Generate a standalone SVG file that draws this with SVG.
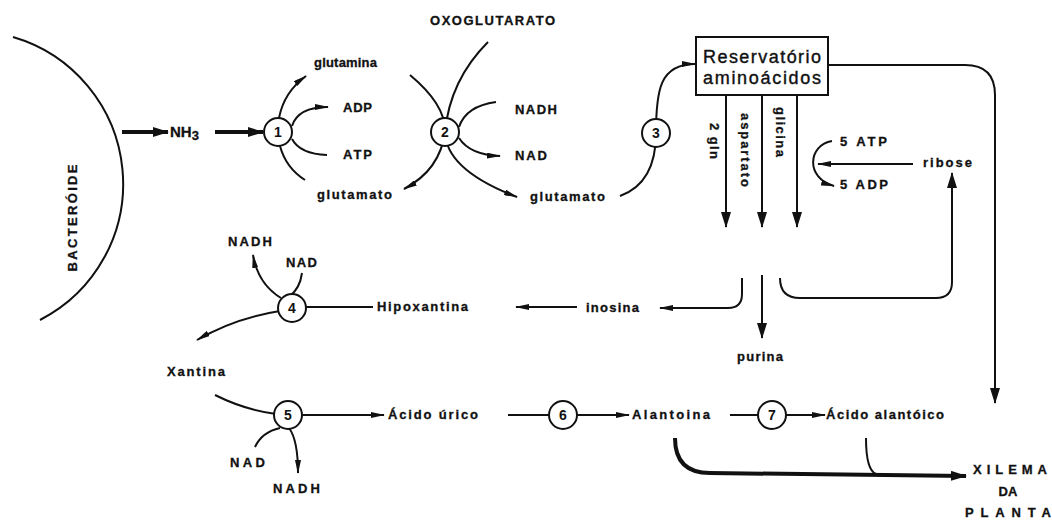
<svg xmlns="http://www.w3.org/2000/svg" width="1052" height="523" viewBox="0 0 1052 523">
<style>
.l{font-family:"Liberation Sans",Arial,sans-serif;font-weight:bold;font-size:13px;fill:#111;stroke:#111;stroke-width:0.3}
.n{font-family:"Liberation Sans",Arial,sans-serif;font-weight:bold;font-size:14px;fill:#111;text-anchor:middle}
.box{font-family:"Liberation Sans",Arial,sans-serif;font-size:18px;fill:#111;stroke:#111;stroke-width:0.4;text-anchor:middle}
.c{fill:none;stroke:#111;stroke-width:2}
.t{fill:none;stroke:#111;stroke-width:4}
.nd{fill:#fff;stroke:#111;stroke-width:2}
</style>
<defs>
<marker id="a" viewBox="0 0 14 6" refX="13" refY="3" markerWidth="14" markerHeight="6" markerUnits="userSpaceOnUse" orient="auto"><path d="M0,0 L14,3 L0,6 z" fill="#111"/></marker>
<marker id="at" viewBox="0 0 16 10" refX="15" refY="5" markerWidth="16" markerHeight="10" markerUnits="userSpaceOnUse" orient="auto"><path d="M0,0 L16,5 L0,10 z" fill="#111"/></marker>
</defs>
<rect width="1052" height="523" fill="#fff"/>
<g id="connectors">
<path class="c" d="M13,37 A153,153 0 0 1 40,320"/>
<path class="t" d="M122,132 H168" marker-end="url(#at)"/>
<path class="t" d="M215,132 H263" marker-end="url(#at)"/>
<path class="c" d="M279,118 Q284,92 306,76" marker-end="url(#a)"/>
<path class="c" d="M292,126 Q298,107 328,107" marker-end="url(#a)"/>
<path class="c" d="M292,139 Q300,154 327,155"/>
<path class="c" d="M280,146 Q286,168 305,180"/>
<path class="c" d="M410,75 Q446,105 445,132 Q446,170 517,197" marker-end="url(#a)"/>
<path class="c" d="M488,42 Q450,80 445,132 Q440,170 404,189" marker-end="url(#a)"/>
<path class="c" d="M496,102 Q466,106 459,127"/>
<path class="c" d="M459,138 Q470,155 500,156" marker-end="url(#a)"/>
<path class="c" d="M620,196 C648,186 656,160 656,133 C656,90 660,64 695,64" marker-end="url(#a)"/>
<path class="c" d="M726,95 V227" marker-end="url(#at)"/>
<path class="c" d="M762,95 V227" marker-end="url(#at)"/>
<path class="c" d="M797,95 V227" marker-end="url(#at)"/>
<path class="c" d="M828,65 H965 Q995,65 995,95 V403" marker-end="url(#at)"/>
<path class="c" d="M913,164 H818" marker-end="url(#a)"/>
<path class="c" d="M832,141 C808,145 805,178 834,186" marker-end="url(#a)"/>
<path class="c" d="M780,278 Q780,298 800,298 H936 Q952,298 952,282 V173" marker-end="url(#at)"/>
<path class="c" d="M742,278 V294 Q742,308 728,308 H660" marker-end="url(#a)"/>
<path class="c" d="M762,275 V338" marker-end="url(#at)"/>
<path class="c" d="M577,307 H516" marker-end="url(#a)"/>
<path class="c" d="M373,307 H300"/>
<path class="c" d="M280,311 Q235,318 197,340" marker-end="url(#a)"/>
<path class="c" d="M281,298 Q258,284 253,255" marker-end="url(#a)"/>
<path class="c" d="M302,273 Q300,288 290,296"/>
<path class="c" d="M215,395 Q245,410 276,414"/>
<path class="c" d="M300,415 H384" marker-end="url(#a)"/>
<path class="c" d="M255,447 Q262,432 280,428"/>
<path class="c" d="M289,428 Q298,440 298,473" marker-end="url(#a)"/>
<path class="c" d="M508,415 H552"/>
<path class="c" d="M575,415 H629" marker-end="url(#a)"/>
<path class="c" d="M730,415 H762"/>
<path class="c" d="M782,415 H825" marker-end="url(#a)"/>
<path class="t" d="M675,438 Q675,473 710,473 L966,476" marker-end="url(#at)"/>
<path class="c" d="M866,438 Q866,470 876,474" stroke-width="2.5"/>
</g>
<g id="bacteroide"><text class="l" transform="translate(77,218) rotate(-90)" text-anchor="middle" textLength="107" lengthAdjust="spacing">BACTERÓIDE</text></g>
<g id="nh3"><text class="l" x="170" y="137" style="font-size:15px">NH<tspan style="font-size:13px" dy="3">3</tspan></text></g>
<g id="node1"><circle class="nd" cx="278" cy="132" r="14"/><text class="n" x="278" y="137">1</text></g>
<g id="node2"><circle class="nd" cx="445" cy="132" r="14"/><text class="n" x="445" y="137">2</text></g>
<g id="node3"><circle class="nd" cx="656" cy="133" r="14"/><text class="n" x="656" y="138">3</text></g>
<g id="node4"><circle class="nd" cx="292" cy="308" r="14"/><text class="n" x="292" y="313">4</text></g>
<g id="node5"><circle class="nd" cx="288" cy="415" r="14"/><text class="n" x="288" y="420">5</text></g>
<g id="node6"><circle class="nd" cx="563" cy="415" r="14"/><text class="n" x="563" y="420">6</text></g>
<g id="node7"><circle class="nd" cx="772" cy="415" r="14"/><text class="n" x="772" y="420">7</text></g>
<g id="reservatorio"><rect x="696" y="37" width="132" height="58" fill="#fff" stroke="#111" stroke-width="2"/>
<text class="box" x="762" y="63" textLength="118" lengthAdjust="spacing">Reservatório</text>
<text class="box" x="762" y="84" textLength="118" lengthAdjust="spacing">aminoácidos</text></g>
<g id="labels">
<text class="l" x="314" y="67" textLength="63">glutamina</text>
<text class="l" x="343" y="112" textLength="29">ADP</text>
<text class="l" x="343" y="159" textLength="29">ATP</text>
<text class="l" x="317" y="199" textLength="75">glutamato</text>
<text class="l" x="430" y="25" textLength="125">OXOGLUTARATO</text>
<text class="l" x="515" y="114" textLength="42">NADH</text>
<text class="l" x="515" y="160" textLength="32">NAD</text>
<text class="l" x="530" y="201" textLength="75">glutamato</text>
<text class="l" transform="translate(710,123) rotate(90)" textLength="36">2 gln</text>
<text class="l" transform="translate(741,113) rotate(90)" textLength="74">aspartato</text>
<text class="l" transform="translate(776,107) rotate(90)" textLength="50">glicina</text>
<text class="l" x="840" y="146" textLength="47">5 ATP</text>
<text class="l" x="840" y="189" textLength="48">5 ADP</text>
<text class="l" x="923" y="167" textLength="49">ribose</text>
<text class="l" x="586" y="312" textLength="53">inosina</text>
<text class="l" x="737" y="361" textLength="46">purina</text>
<text class="l" x="377" y="311" textLength="91">Hipoxantina</text>
<text class="l" x="228" y="246" textLength="44">NADH</text>
<text class="l" x="286" y="267" textLength="31">NAD</text>
<text class="l" x="167" y="376" textLength="58">Xantina</text>
<text class="l" x="388" y="419" textLength="90">Ácido úrico</text>
<text class="l" x="632" y="419" textLength="78">Alantoina</text>
<text class="l" x="826" y="419" textLength="118">Ácido alantóico</text>
<text class="l" x="230" y="467" textLength="35">NAD</text>
<text class="l" x="273" y="493" textLength="47">NADH</text>
<text class="l" x="973" y="474" textLength="74">XILEMA</text>
<text class="l" x="1008" y="496" text-anchor="middle">DA</text>
<text class="l" x="965" y="517" textLength="86">PLANTA</text>
</g>
</svg>
